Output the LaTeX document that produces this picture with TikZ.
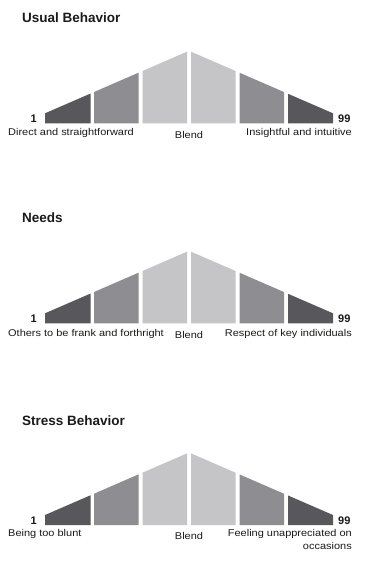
\documentclass[tikz,border=0pt]{standalone}
\usepackage{fontspec}
\setmainfont{Liberation Sans}
\newfontfamily\lblfont{Liberation Sans}[FakeStretch=1.12]
\definecolor{segdark}{HTML}{58585C}
\definecolor{segmid}{HTML}{8E8E92}
\definecolor{seglight}{HTML}{C5C5C7}
\definecolor{txt}{HTML}{1A1A1A}
\tikzset{
  ttl/.style={inner sep=0pt, anchor=base west, text=txt, font=\fontsize{13.5}{15}\selectfont\bfseries},
  lbl/.style={inner sep=0pt, text=txt, font=\lblfont\fontsize{9.8}{12.7}\selectfont},
  num/.style={inner sep=0pt, text=txt, font=\fontsize{11}{12}\selectfont\bfseries},
}
\newcommand\drawscale[1]{%
    \fill[segdark]  (45,{123.3+#1})  -- (45,{113.3+#1})  -- (90.5,{93.55+#1}) -- (90.5,{123.3+#1}) -- cycle;
    \fill[segmid]   (94,{123.3+#1})  -- (94,{92.03+#1})  -- (138.5,{72.7+#1}) -- (138.5,{123.3+#1}) -- cycle;
    \fill[seglight] (142.5,{123.3+#1}) -- (142.5,{71.0+#1}) -- (187,{51.67+#1}) -- (187,{123.3+#1}) -- cycle;
    \fill[seglight] (191,{123.3+#1}) -- (191,{51.67+#1}) -- (235.5,{70.98+#1}) -- (235.5,{123.3+#1}) -- cycle;
    \fill[segmid]   (239.5,{123.3+#1}) -- (239.5,{72.72+#1}) -- (284,{92.03+#1}) -- (284,{123.3+#1}) -- cycle;
    \fill[segdark]  (288,{123.3+#1}) -- (288,{93.77+#1}) -- (333,{113.3+#1}) -- (333,{123.3+#1}) -- cycle;
}
\begin{document}
\begin{tikzpicture}[x=1pt,y=-1pt]
\fill[white] (0,0) rectangle (372,573);
\useasboundingbox (0,0) rectangle (372,573);
% Panel 1
\drawscale{0}
\node[ttl] (t1) at (22,22.7) {Usual Behavior};
\node[num, anchor=base east] (a1) at (37,122.7) {1};
\node[num, anchor=base west] (b1) at (338,122.7) {99};
\node[lbl, anchor=base west] (l1) at (8,135.2) {Direct and straightforward};
\node[lbl, anchor=base] (m1) at (189,138.4) {Blend};
\node[lbl, anchor=base east] (r1) at (352,135.2) {Insightful and intuitive};
% Panel 2
\drawscale{200}
\node[ttl] (t2) at (22,222.7) {Needs};
\node[num, anchor=base east] (a2) at (37,322.7) {1};
\node[num, anchor=base west] (b2) at (338,322.7) {99};
\node[lbl, anchor=base west] (l2) at (8,336) {Others to be frank and forthright};
\node[lbl, anchor=base] (m2) at (189,338.4) {Blend};
\node[lbl, anchor=base east] (r2) at (352,336) {Respect of key individuals};
% Panel 3
\drawscale{401.7}
\node[ttl] (t3) at (22,425) {Stress Behavior};
\node[num, anchor=base east] (a3) at (37,524.4) {1};
\node[num, anchor=base west] (b3) at (338,524.4) {99};
\node[lbl, anchor=base west] (l3) at (8,536.7) {Being too blunt};
\node[lbl, anchor=base] (m3) at (189,539.3) {Blend};
\node[lbl, anchor=base east] (r3) at (352,536.7) {Feeling unappreciated on};
\node[lbl, anchor=base east] (r3b) at (352,549.3) {occasions};
\end{tikzpicture}
\end{document}
